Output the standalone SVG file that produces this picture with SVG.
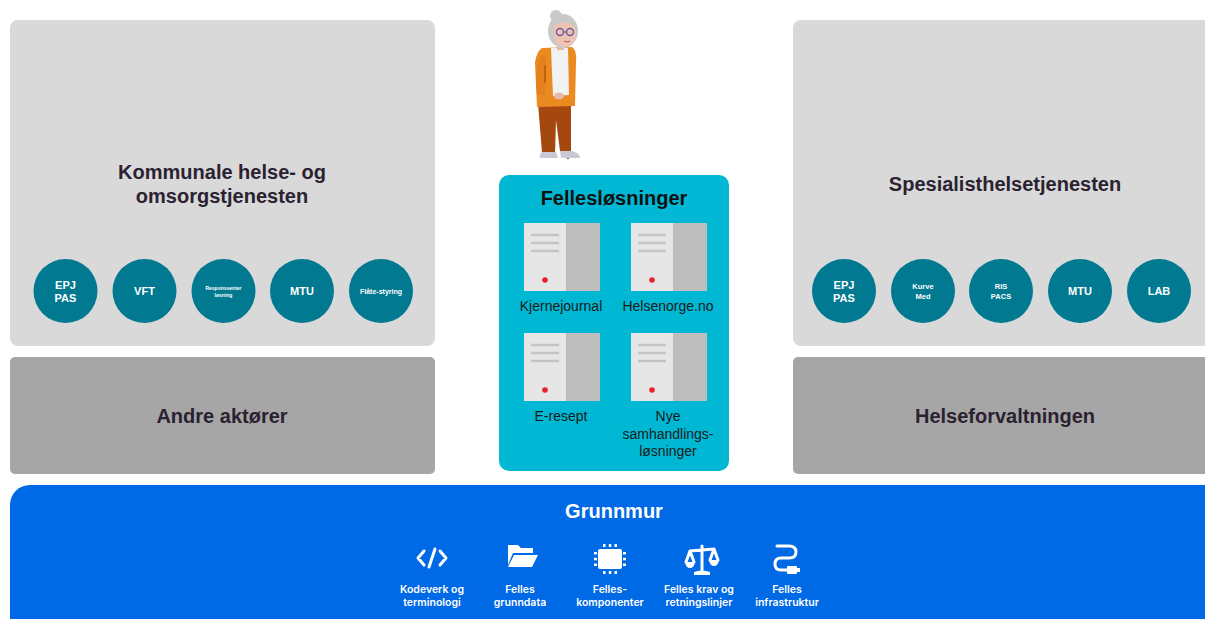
<svg xmlns="http://www.w3.org/2000/svg" width="1205" height="619" viewBox="0 0 1205 619">
  <style>
    .sector { fill: #d9d9d9; }
    .actor { fill: #a6a6a6; }
    .title { font-family: "Liberation Sans", Arial, sans-serif; font-weight: bold; font-size: 20px; fill: #2b2231; text-anchor: middle; }
    .sys { fill: #017a91; }
    .systxt { font-family: "Liberation Sans", Arial, sans-serif; font-weight: bold; fill: #ffffff; text-anchor: middle; }
    .srv-l { fill: #e6e6e6; }
    .srv-r { fill: #bdbdbd; }
    .srv-line { stroke: #c4c4c4; stroke-width: 2.5; }
    .srv-led { fill: #e8212a; }
    .srvtxt { font-family: "Liberation Sans", Arial, sans-serif; font-size: 14px; fill: #1a1a1a; text-anchor: middle; }
    .icon { fill: none; stroke: #ffffff; stroke-width: 3; stroke-linecap: round; stroke-linejoin: round; }
    .iconfill { fill: #ffffff; }
    .base-lbl { font-family: Inter, "Liberation Sans", sans-serif; font-weight: 600; font-size: 10.5px; fill: #ffffff; text-anchor: middle; }
  </style>
  <defs>
    <g id="server">
      <rect x="0" y="0" width="42" height="68" class="srv-l"/>
      <rect x="42" y="0" width="34" height="68" class="srv-r"/>
      <line x1="7" y1="12" x2="35" y2="12" class="srv-line"/>
      <line x1="7" y1="20" x2="35" y2="20" class="srv-line"/>
      <line x1="7" y1="28" x2="35" y2="28" class="srv-line"/>
      <circle cx="21" cy="57" r="2.8" class="srv-led"/>
    </g>
  </defs>
  <rect width="1205" height="619" fill="#ffffff"/>

  <!-- Municipal services -->
  <g id="kommunal">
    <rect x="10" y="20" width="425" height="326" rx="8" class="sector"/>
    <text class="title" x="222" y="179">Kommunale helse- og</text>
    <text class="title" x="222" y="203">omsorgstjenesten</text>
    <g id="k-epj">
      <circle cx="65.5" cy="291" r="32" class="sys"/>
      <text class="systxt" font-size="11" x="65.5" y="289">EPJ</text>
      <text class="systxt" font-size="11" x="65.5" y="302">PAS</text>
    </g>
    <g id="k-vft">
      <circle cx="144.5" cy="291" r="32" class="sys"/>
      <text class="systxt" font-size="11" x="144.5" y="295">VFT</text>
    </g>
    <g id="k-respons">
      <circle cx="223.5" cy="291" r="32" class="sys"/>
      <text class="systxt" font-size="5" x="223.5" y="290">Responssenter</text>
      <text class="systxt" font-size="5" x="223.5" y="297">løsning</text>
    </g>
    <g id="k-mtu">
      <circle cx="302" cy="291" r="32" class="sys"/>
      <text class="systxt" font-size="11" x="302" y="295">MTU</text>
    </g>
    <g id="k-flate">
      <circle cx="381" cy="291" r="32" class="sys"/>
      <text class="systxt" font-size="7" x="381" y="294">Flåte-styring</text>
    </g>
  </g>

  <g id="andre">
    <rect x="10" y="357" width="425" height="117" rx="5" class="actor"/>
    <text class="title" x="222" y="423">Andre aktører</text>
  </g>

  <!-- Specialist services -->
  <g id="spesialist">
    <rect x="793" y="20" width="430" height="326" rx="8" class="sector"/>
    <text class="title" x="1005" y="191">Spesialisthelsetjenesten</text>
    <g id="s-epj">
      <circle cx="844" cy="291" r="32" class="sys"/>
      <text class="systxt" font-size="11" x="844" y="289">EPJ</text>
      <text class="systxt" font-size="11" x="844" y="302">PAS</text>
    </g>
    <g id="s-kurve">
      <circle cx="923" cy="291" r="32" class="sys"/>
      <text class="systxt" font-size="7.5" x="923" y="289">Kurve</text>
      <text class="systxt" font-size="7.5" x="923" y="299">Med</text>
    </g>
    <g id="s-ris">
      <circle cx="1001" cy="291" r="32" class="sys"/>
      <text class="systxt" font-size="7.5" x="1001" y="289">RIS</text>
      <text class="systxt" font-size="7.5" x="1001" y="299">PACS</text>
    </g>
    <g id="s-mtu">
      <circle cx="1080" cy="291" r="32" class="sys"/>
      <text class="systxt" font-size="11" x="1080" y="295">MTU</text>
    </g>
    <g id="s-lab">
      <circle cx="1159" cy="291" r="32" class="sys"/>
      <text class="systxt" font-size="11" x="1159" y="295">LAB</text>
    </g>
  </g>

  <g id="forvaltning">
    <rect x="793" y="357" width="430" height="117" rx="5" class="actor"/>
    <text class="title" x="1005" y="423">Helseforvaltningen</text>
  </g>

  <!-- Shared national solutions -->
  <g id="felleslosninger">
    <rect x="499" y="175" width="230" height="296" rx="10" fill="#00b8d4"/>
    <text class="title" x="614" y="205" style="fill:#111111">Fellesløsninger</text>
    <use href="#server" x="524" y="223"/>
    <use href="#server" x="631" y="223"/>
    <use href="#server" x="524" y="333"/>
    <use href="#server" x="631" y="333"/>
    <text class="srvtxt" x="561" y="311">Kjernejournal</text>
    <text class="srvtxt" x="668" y="311">Helsenorge.no</text>
    <text class="srvtxt" x="561" y="421">E-resept</text>
    <text class="srvtxt" x="668" y="421">Nye</text>
    <text class="srvtxt" x="668" y="439">samhandlings-</text>
    <text class="srvtxt" x="668" y="456">løsninger</text>
  </g>

  <!-- Patient figure -->
  <g id="pasient">
    <!-- cane -->
    <path d="M553,99 Q556,92 561,96 L568,158" fill="none" stroke="#a0703a" stroke-width="2.6" stroke-linecap="round"/>
    <!-- legs -->
    <path d="M538,103 L571,103 L571,151 L560,151 L556,120 L555,153 L542,153 Z" fill="#a4480f"/>
    <!-- shoes -->
    <path d="M542,152 L556,152 L558,158 L540,158 Q539,154 542,152 Z" fill="#c9c9d6"/>
    <path d="M560,151 L572,151 Q580,153 580,158 L561,158 Z" fill="#c9c9d6"/>
    <!-- cardigan -->
    <path d="M542,48 L572,47 Q577,50 576,62 L575,106 L537,107 L535,62 Q537,51 542,48 Z" fill="#ec8a22"/>
    <!-- shirt -->
    <path d="M551,48 L568,48 L569,95 L553,96 Z" fill="#f2f2f2"/>
    <!-- arm -->
    <path d="M541,55 Q534,70 537,95 L545,95 Q546,75 546,58 Z" fill="#e6801c"/>
    <line x1="545" y1="65" x2="545" y2="83" stroke="#b8570f" stroke-width="1.5"/>
    <!-- hands -->
    <ellipse cx="559" cy="96" rx="5" ry="3.5" fill="#e7b8a8"/>
    <!-- neck -->
    <rect x="557" y="42" width="7" height="8" fill="#e7b8a8"/>
    <!-- hair -->
    <circle cx="556" cy="16" r="6" fill="#c9c9c9"/>
    <ellipse cx="563" cy="31" rx="15" ry="17" fill="#c9c9c9"/>
    <!-- face -->
    <path d="M553,28 Q555,22 568,23 Q577,25 576,34 Q575,46 566,47 Q557,47 555,40 Z" fill="#edc3b4"/>
    <!-- glasses -->
    <circle cx="560" cy="32" r="3.5" fill="none" stroke="#6a5a9a" stroke-width="1.4"/>
    <circle cx="570" cy="32" r="3.5" fill="none" stroke="#6a5a9a" stroke-width="1.4"/>
    <line x1="563.5" y1="32" x2="566.5" y2="32" stroke="#6a5a9a" stroke-width="1.2"/>
    <path d="M564,41 Q567,43 570,41" fill="none" stroke="#b0584a" stroke-width="1"/>
  </g>

  <!-- Foundation layer -->
  <g id="grunnmur">
    <rect x="10" y="485" width="1225" height="160" rx="20" fill="#0069e6"/>
    <text class="title" x="614" y="518" style="fill:#ffffff">Grunnmur</text>

    <!-- code -->
    <g id="g-kodeverk">
      <path class="icon" d="M424,551 L418,558 L424,565 M440,551 L446,558 L440,565 M435,549 L429,567"/>
      <text class="base-lbl" x="432" y="593">Kodeverk og</text>
      <text class="base-lbl" x="432" y="606">terminologi</text>
    </g>
    <!-- folder -->
    <g id="g-grunndata">
      <path class="iconfill" d="M508,545 L518,545 L521,548 L533,548 L533,553 L513,553 L508,565 Z"/>
      <path class="iconfill" d="M514,555 L538,555 L532,567 L508,567 Z"/>
      <text class="base-lbl" x="520" y="593">Felles</text>
      <text class="base-lbl" x="520" y="606">grunndata</text>
    </g>
    <!-- chip -->
    <g id="g-komponenter">
      <rect class="iconfill" x="598" y="549" width="24" height="20" rx="2"/>
      <g class="iconfill">
        <rect x="603" y="544" width="2.5" height="3"/><rect x="608.8" y="544" width="2.5" height="3"/><rect x="614.5" y="544" width="2.5" height="3"/>
        <rect x="603" y="571" width="2.5" height="3"/><rect x="608.8" y="571" width="2.5" height="3"/><rect x="614.5" y="571" width="2.5" height="3"/>
        <rect x="594" y="552" width="3" height="2.5"/><rect x="594" y="557.8" width="3" height="2.5"/><rect x="594" y="563.5" width="3" height="2.5"/>
        <rect x="623" y="552" width="3" height="2.5"/><rect x="623" y="557.8" width="3" height="2.5"/><rect x="623" y="563.5" width="3" height="2.5"/>
      </g>
      <text class="base-lbl" x="610" y="593">Felles-</text>
      <text class="base-lbl" x="610" y="606">komponenter</text>
    </g>
    <!-- scale -->
    <g id="g-krav">
      <path class="icon" stroke-width="2.5" d="M702,546 L702,572 M690,551 L714,549 M690,551 L686,562 M690,551 L694,562 M714,549 L710,560 M714,549 L718,560"/>
      <path class="iconfill" d="M685,562 L695,562 Q694,568 690,568 Q686,568 685,562 Z"/>
      <path class="iconfill" d="M709,560 L719,560 Q718,566 714,566 Q710,566 709,560 Z"/>
      <path class="iconfill" d="M694,575 L710,575 L710,572 Q702,569 694,572 Z"/>
      <text class="base-lbl" x="699" y="593">Felles krav og</text>
      <text class="base-lbl" x="699" y="606">retningslinjer</text>
    </g>
    <!-- cable -->
    <g id="g-infrastruktur">
      <path class="icon" d="M777,546 L789,546 Q796,546 796,552 Q796,558 789,558 L781,558 Q775,558 775,564 Q775,570 781,570 L788,570"/>
      <rect class="iconfill" x="787" y="566" width="10" height="8" rx="1"/>
      <rect class="iconfill" x="797" y="568" width="3" height="4"/>
      <text class="base-lbl" x="787" y="593">Felles</text>
      <text class="base-lbl" x="787" y="606">infrastruktur</text>
    </g>
  </g>

  <g id="connectors"></g>
</svg>
